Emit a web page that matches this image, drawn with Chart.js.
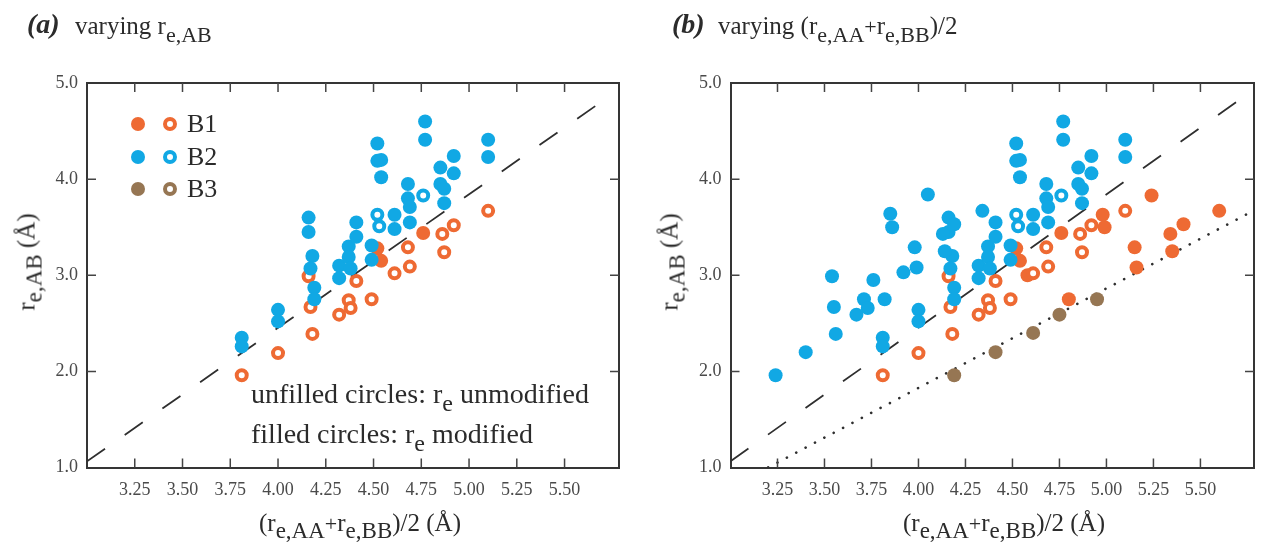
<!DOCTYPE html>
<html>
<head>
<meta charset="utf-8">
<script src="https://cdn.jsdelivr.net/npm/chart.js@4.4.1/dist/chart.umd.min.js"></script>
<style>
  html,body{margin:0;padding:0;background:#fff;}
  #wrap{position:relative;width:1263px;height:542px;overflow:hidden;background:#fff;
        font-family:'Liberation Serif','Times New Roman',serif;color:#2b2b2b;}
  canvas{position:absolute;top:0;}
  .t{position:absolute;white-space:nowrap;line-height:1;}
  .sub{position:relative;top:8px;}
  .rot{position:absolute;white-space:nowrap;line-height:1;font-size:25px;
       transform:translate(-50%,-50%) rotate(-90deg);}
  .dot{position:absolute;width:14px;height:14px;border-radius:50%;box-sizing:border-box;}
</style>
</head>
<body>
<div id="wrap">
  <canvas id="ca" width="632" height="542" style="left:0px"></canvas>
  <canvas id="cb" width="620" height="542" style="left:643px"></canvas>

  <!-- titles -->
  <div class="t" style="left:27px;top:10px;font-size:28px;font-weight:bold;font-style:italic;">(a)</div>
  <div class="t" style="left:75px;top:13px;font-size:25px;">varying r<span class="sub" style="font-size:22px;">e,AB</span></div>
  <div class="t" style="left:672px;top:10px;font-size:28px;font-weight:bold;font-style:italic;">(b)</div>
  <div class="t" style="left:718px;top:13px;font-size:25px;">varying (r<span class="sub" style="font-size:22px;">e,AA</span><span style="font-size:22px;">+</span>r<span class="sub" style="font-size:22px;">e,BB</span>)/2</div>

  <!-- y axis titles -->
  <div class="rot" style="left:26px;top:262px;">r<span class="sub" style="font-size:23px;top:7px;">e,AB</span> (Å)</div>
  <div class="rot" style="left:669px;top:262px;">r<span class="sub" style="font-size:23px;top:7px;">e,AB</span> (Å)</div>

  <!-- x axis titles -->
  <div class="t" id="xta" style="top:510px;font-size:25px;">(r<span class="sub" style="font-size:23px;top:7px;">e,AA</span><span style="font-size:22px;">+</span>r<span class="sub" style="font-size:23px;top:7px;">e,BB</span>)/2 (Å)</div>
  <div class="t" id="xtb" style="top:510px;font-size:25px;">(r<span class="sub" style="font-size:23px;top:7px;">e,AA</span><span style="font-size:22px;">+</span>r<span class="sub" style="font-size:23px;top:7px;">e,BB</span>)/2 (Å)</div>

  <!-- legend (panel a) -->
  <div id="legend"></div>

  <!-- annotation (panel a) -->
  <div class="t" style="left:251px;top:380px;font-size:28px;">unfilled circles: r<span class="sub" style="font-size:24px;">e</span> unmodified</div>
  <div class="t" style="left:251px;top:420px;font-size:28px;">filled circles: r<span class="sub" style="font-size:24px;">e</span> modified</div>
</div>

<script>
// ---------- colours / series names ----------
const seriesNames = ['B1', 'B2', 'B3'];
const seriesColors = ['#EE6A33', '#11A8E4', '#967653'];

// ---------- axis ticks ----------
const xTickValues = [3.25, 3.50, 3.75, 4.00, 4.25, 4.50, 4.75, 5.00, 5.25, 5.50];
const yTickValues = [1.0, 2.0, 3.0, 4.0, 5.0];
const xRange = [3.0, 5.785];
const yRange = [1.0, 5.0];

// ---------- reference lines ----------
const dashedLine = [[3.0, 1.065], [5.715, 4.835]];
const dottedLine = [[3.2, 1.0], [5.785, 3.675]];

// ---------- panel (a) data : [x, y] ----------
const a_B1_filled = [[4.52, 3.28], [4.54, 3.15], [4.76, 3.44]];
const a_B1_open = [[3.81, 1.96], [4.00, 2.19], [4.18, 2.39], [4.17, 2.67], [4.16, 2.99], [4.32, 2.59],
  [4.37, 2.74], [4.38, 2.66], [4.41, 2.94], [4.49, 2.75], [4.61, 3.02], [4.69, 3.09], [4.68, 3.29],
  [4.86, 3.43], [4.92, 3.52], [4.87, 3.24], [5.10, 3.67]];
const a_B2_filled = [[3.81, 2.35], [3.81, 2.26], [4.00, 2.64], [4.00, 2.52], [4.19, 2.87], [4.19, 2.75],
  [4.16, 3.60], [4.16, 3.45], [4.18, 3.20], [4.17, 3.07], [4.32, 3.10], [4.32, 2.97], [4.37, 3.30],
  [4.37, 3.19], [4.38, 3.07], [4.41, 3.55], [4.41, 3.40], [4.49, 3.31], [4.49, 3.16], [4.52, 4.37],
  [4.52, 4.19], [4.54, 4.20], [4.54, 4.02], [4.61, 3.63], [4.61, 3.48], [4.68, 3.95], [4.68, 3.80],
  [4.69, 3.71], [4.69, 3.55], [4.77, 4.60], [4.77, 4.41], [4.85, 4.12], [4.85, 3.95], [4.87, 3.90],
  [4.87, 3.75], [4.92, 4.24], [4.92, 4.06], [5.10, 4.41], [5.10, 4.23]];
const a_B2_open = [[4.52, 3.63], [4.53, 3.51], [4.76, 3.83]];

// ---------- panel (b) additional data ----------
const b_B1_filled_extra = [[4.58, 3.00], [4.80, 2.75], [4.98, 3.63], [4.99, 3.50], [5.24, 3.83],
  [5.15, 3.29], [5.16, 3.08], [5.34, 3.43], [5.41, 3.53], [5.35, 3.25], [5.60, 3.67]];
const b_B2_filled_extra = [[3.24, 1.96], [3.40, 2.20], [3.56, 2.39], [3.55, 2.67], [3.54, 2.99],
  [3.67, 2.59], [3.71, 2.75], [3.73, 2.66], [3.76, 2.95], [3.82, 2.75], [3.85, 3.64], [3.86, 3.50],
  [3.92, 3.03], [3.98, 3.29], [3.99, 3.08], [4.05, 3.84], [4.13, 3.43], [4.14, 3.25], [4.19, 3.53],
  [4.34, 3.67]];
const b_B3_filled = [[4.19, 1.96], [4.41, 2.20], [4.61, 2.40], [4.75, 2.59], [4.95, 2.75]];

const FONT = "'Liberation Serif','Times New Roman',serif";
const toPts = arr => arr.map(([x, y]) => ({x, y}));

function filledSet(arr, color, order) {
  return {data: toPts(arr), backgroundColor: color, borderWidth: 0, pointRadius: 7,
          pointHoverRadius: 7, order};
}
function openSet(arr, color, order) {
  return {data: toPts(arr), backgroundColor: '#ffffff', borderColor: color, borderWidth: 4,
          pointRadius: 5, pointHoverRadius: 5, order};
}
function lineSet(arr, dash, width, cap) {
  return {data: toPts(arr), showLine: true, borderColor: '#2f2f2f', borderWidth: width,
          borderDash: dash, borderCapStyle: cap, pointRadius: 0, fill: false, order: 20};
}

const innerTicks = {
  id: 'innerTicks',
  afterDraw(chart) {
    const {ctx, chartArea: {left, right, top, bottom}, scales: {x, y}} = chart;
    ctx.save();
    ctx.strokeStyle = '#444';
    ctx.lineWidth = 1.5;
    ctx.beginPath();
    xTickValues.forEach(v => {
      const p = x.getPixelForValue(v);
      ctx.moveTo(p, bottom); ctx.lineTo(p, bottom - 9);
      ctx.moveTo(p, top); ctx.lineTo(p, top + 9);
    });
    yTickValues.forEach(v => {
      if (v === yRange[0] || v === yRange[1]) return;
      const p = y.getPixelForValue(v);
      ctx.moveTo(left, p); ctx.lineTo(left + 9, p);
      ctx.moveTo(right, p); ctx.lineTo(right - 9, p);
    });
    ctx.stroke();
    ctx.restore();
  }
};

function makeChart(id, datasets, yW, y2W) {
  const border = {display: true, color: '#353535', width: 2};
  const grid = {display: true, drawOnChartArea: false, drawTicks: false};
  const setX = s => { s.ticks = xTickValues.map(v => ({value: v})); };
  const setY = s => { s.ticks = yTickValues.map(v => ({value: v})); };
  return new Chart(document.getElementById(id), {
    type: 'scatter',
    data: {datasets},
    options: {
      responsive: false, animation: false, events: [],
      layout: {padding: 0},
      plugins: {legend: {display: false}, tooltip: {enabled: false}},
      scales: {
        x: {type: 'linear', position: 'bottom', min: xRange[0], max: xRange[1],
            afterBuildTicks: setX, afterFit: s => { s.height = 74.5; },
            ticks: {callback: v => Number(v).toFixed(2), font: {family: FONT, size: 18},
                    color: '#4a4a4a', padding: 12, maxRotation: 0, autoSkip: false},
            grid, border},
        x2: {type: 'linear', position: 'top', min: xRange[0], max: xRange[1],
             afterBuildTicks: setX, afterFit: s => { s.height = 83; },
             ticks: {display: false}, grid, border},
        y: {type: 'linear', position: 'left', min: yRange[0], max: yRange[1],
            afterBuildTicks: setY, afterFit: s => { s.width = yW; },
            ticks: {callback: v => Number(v).toFixed(1), font: {family: FONT, size: 18},
                    color: '#4a4a4a', padding: 9},
            grid, border},
        y2: {type: 'linear', position: 'right', min: yRange[0], max: yRange[1],
             afterBuildTicks: setY, afterFit: s => { s.width = y2W; },
             ticks: {display: false}, grid, border}
      }
    },
    plugins: [innerTicks]
  });
}

const [cB1, cB2, cB3] = seriesColors;

// lower "order" is drawn on top: blue above orange, lines underneath
makeChart('ca', [
  filledSet(a_B2_filled, cB2, 1),
  openSet(a_B2_open, cB2, 2),
  openSet(a_B1_open, cB1, 3),
  filledSet(a_B1_filled, cB1, 4),
  lineSet(dashedLine, [22, 24], 1.8, 'butt')
], 87, 13);

makeChart('cb', [
  filledSet(b_B3_filled, cB3, 0),
  filledSet(a_B2_filled.concat(b_B2_filled_extra), cB2, 1),
  openSet(a_B2_open, cB2, 2),
  openSet(a_B1_open, cB1, 3),
  filledSet(a_B1_filled.concat(b_B1_filled_extra), cB1, 4),
  lineSet(dashedLine, [22, 24], 1.8, 'butt'),
  lineSet(dottedLine, [0.1, 10.5], 2.6, 'round')
], 87.5, 1.5);

// ---------- legend (panel a) ----------
const legend = document.getElementById('legend');
const legendRowsY = [124, 157, 189];
seriesNames.forEach((name, i) => {
  const cy = legendRowsY[i];
  const f = document.createElement('div');
  f.className = 'dot';
  f.style.cssText = `left:${138 - 7}px;top:${cy - 7}px;background:${seriesColors[i]};`;
  const o = document.createElement('div');
  o.className = 'dot';
  o.style.cssText = `left:${170 - 7}px;top:${cy - 7}px;background:#fff;border:4px solid ${seriesColors[i]};`;
  const t = document.createElement('div');
  t.className = 't';
  t.style.cssText = `left:187px;top:${cy - 13}px;font-size:26px;`;
  t.textContent = name;
  legend.append(f, o, t);
});

// centre x-axis titles
function centre(id, cx) {
  const el = document.getElementById(id);
  el.style.left = (cx - el.offsetWidth / 2) + 'px';
}
centre('xta', 360);
centre('xtb', 1004);
</script>
</body>
</html>
